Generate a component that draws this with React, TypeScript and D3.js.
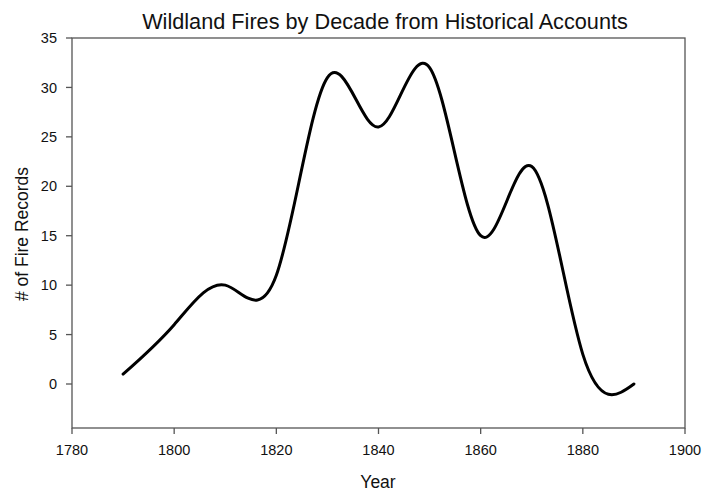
import React from "react";
import * as d3 from "d3";

const years = [1790, 1800, 1810, 1820, 1830, 1840, 1850, 1860, 1870, 1880, 1890];
const fires = [1, 6, 10, 11, 31, 26, 32, 15, 22, 3, 0];
const xTicks = [1780, 1800, 1820, 1840, 1860, 1880, 1900];
const yTicks = [0, 5, 10, 15, 20, 25, 30, 35];

const W = 704, H = 491;

export default function App() {
  const x = d3.scaleLinear().domain([1780, 1900]).range([72, 685]);
  const y = d3.scaleLinear().domain([0, 35]).range([384, 38]);
  const yb = 428, yt = y(35), x0 = x(1780), x1 = x(1900);
  const pts: [number, number][] = years.map((yr, i) => [yr, fires[i]]);
  const line = d3.line<[number, number]>().x(d => x(d[0])).y(d => y(d[1])).curve(d3.curveNatural);
  const font = "'Liberation Sans', Arial, sans-serif";
  const axisColor = "#555";
  return (
    <svg width={W} height={H} style={{ position: "absolute", left: 0, top: 0 }} fontFamily={font}>
      <rect x={0} y={0} width={W} height={H} fill="#fff" />
      <text x={385} y={29} textAnchor="middle" fontSize={21.7} fill="#111">
        Wildland Fires by Decade from Historical Accounts
      </text>
      <rect x={x0} y={yt} width={x1 - x0} height={yb - yt} fill="none" stroke={axisColor} strokeWidth={1.3} />
      {yTicks.map(t => (
        <g key={"y" + t}>
          <line x1={x0 - 6} x2={x0} y1={y(t)} y2={y(t)} stroke={axisColor} strokeWidth={1.3} />
          <text x={x0 - 15} y={y(t)} dy="0.35em" textAnchor="end" fontSize={14.5} fill="#111">{t}</text>
        </g>
      ))}
      {xTicks.map(t => (
        <g key={"x" + t}>
          <line x1={x(t)} x2={x(t)} y1={yb} y2={yb + 6} stroke={axisColor} strokeWidth={1.3} />
          <text x={x(t)} y={455} textAnchor="middle" fontSize={14.5} fill="#111">{t}</text>
        </g>
      ))}
      <path d={line(pts) || ""} fill="none" stroke="#000" strokeWidth={3} strokeLinejoin="round" strokeLinecap="round" />
      <text x={378} y={488} textAnchor="middle" fontSize={17.5} fill="#111">Year</text>
      <text transform={`translate(28, 234) rotate(-90)`} textAnchor="middle" fontSize={17.5} fill="#111">
        # of Fire Records
      </text>
    </svg>
  );
}
